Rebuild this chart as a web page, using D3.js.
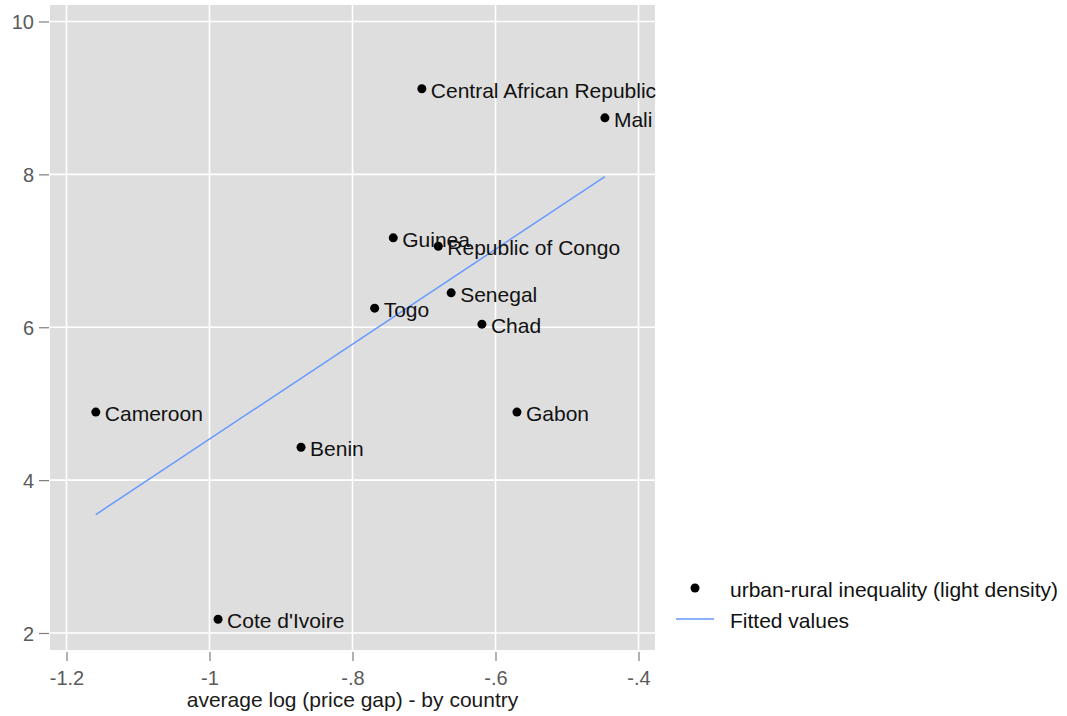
<!DOCTYPE html>
<html>
<head>
<meta charset="utf-8">
<script src="https://cdn.jsdelivr.net/npm/d3@7"></script>
<style>
  html, body { margin: 0; padding: 0; background: #ffffff; }
  svg { display: block; font-family: "Liberation Sans", Arial, sans-serif; }
</style>
</head>
<body>
<svg id="chart" width="1067" height="716"></svg>
<script>
// Countries and their values
const countries = ["Central African Republic", "Mali", "Guinea", "Republic of Congo", "Senegal",
                   "Togo", "Chad", "Gabon", "Cameroon", "Benin", "Cote d'Ivoire"];
const priceGap = [-0.703, -0.447, -0.743, -0.680, -0.662, -0.769, -0.619, -0.570, -1.159, -0.872, -0.988];
const inequality = [9.12, 8.74, 7.17, 7.06, 6.45, 6.25, 6.04, 4.89, 4.89, 4.43, 2.18];

// Fitted line endpoints
const fitX = [-1.159, -0.447];
const fitY = [3.55, 7.97];

const xTicks = [-1.2, -1.0, -0.8, -0.6, -0.4];
const xTickLabels = ["-1.2", "-1", "-.8", "-.6", "-.4"];
const yTicks = [2, 4, 6, 8, 10];
const yTickLabels = ["2", "4", "6", "8", "10"];

const legendLabels = ["urban-rural inequality (light density)", "Fitted values"];

const svg = d3.select("#chart");
const panel = { left: 50, right: 655, top: 5, bottom: 650 };

const x = d3.scaleLinear().domain([-1.2, -0.4]).range([66.5, 638.5]);
const y = d3.scaleLinear().domain([2, 10]).range([633, 21.5]);

const gridColor = "#ffffff";
const tickColor = "#7f7f7f";
const textGray = "#5a5a5a";
const fitColor = "#6699ff";

// Panel background
svg.append("rect")
  .attr("x", panel.left).attr("y", panel.top)
  .attr("width", panel.right - panel.left).attr("height", panel.bottom - panel.top)
  .attr("fill", "#dedede");

// Grid lines
svg.append("g").selectAll("line").data(xTicks).join("line")
  .attr("x1", d => x(d)).attr("x2", d => x(d))
  .attr("y1", panel.top).attr("y2", panel.bottom)
  .attr("stroke", gridColor).attr("stroke-width", 1.6);
svg.append("g").selectAll("line").data(yTicks).join("line")
  .attr("y1", d => y(d)).attr("y2", d => y(d))
  .attr("x1", panel.left).attr("x2", panel.right)
  .attr("stroke", gridColor).attr("stroke-width", 1.6);

// Axes
const xAxis = d3.axisBottom(x).tickValues(xTicks)
  .tickFormat((d, i) => xTickLabels[i]).tickSize(9).tickPadding(10);
const gx = svg.append("g").attr("transform", `translate(0,${panel.bottom + 2})`).call(xAxis);
gx.select(".domain").remove();
gx.selectAll("line").attr("stroke", tickColor).attr("stroke-width", 1.2);
gx.selectAll("text").attr("fill", textGray).style("font-size", "20px");

const yAxis = d3.axisLeft(y).tickValues(yTicks)
  .tickFormat((d, i) => yTickLabels[i]).tickSize(10).tickPadding(5);
const gy = svg.append("g").attr("transform", `translate(${panel.left - 1},0)`).call(yAxis);
gy.select(".domain").remove();
gy.selectAll("line").attr("stroke", tickColor).attr("stroke-width", 1.2);
gy.selectAll("text").attr("fill", textGray).style("font-size", "20px").attr("dy", "0.35em");

// Axis title
svg.append("text")
  .attr("x", (panel.left + panel.right) / 2).attr("y", 707)
  .attr("text-anchor", "middle").attr("fill", "#1a1a1a").style("font-size", "21px")
  .text("average log (price gap) - by country");

// Fitted line
svg.append("path")
  .datum(fitX.map((d, i) => [d, fitY[i]]))
  .attr("d", d3.line().x(d => x(d[0])).y(d => y(d[1])))
  .attr("fill", "none").attr("stroke", fitColor).attr("stroke-width", 1.5);

// Points and labels
const pts = countries.map((c, i) => ({ name: c, px: priceGap[i], py: inequality[i] }));
svg.append("g").selectAll("circle").data(pts).join("circle")
  .attr("cx", d => x(d.px)).attr("cy", d => y(d.py)).attr("r", 4.5).attr("fill", "#000");
svg.append("g").selectAll("text").data(pts).join("text")
  .attr("x", d => x(d.px) + 9).attr("y", d => y(d.py) + 9)
  .attr("fill", "#111").style("font-size", "21px")
  .text(d => d.name);

// Legend
const lg = svg.append("g");
lg.append("circle").attr("cx", 695).attr("cy", 588).attr("r", 4.5).attr("fill", "#000");
lg.append("line").attr("x1", 676).attr("x2", 714).attr("y1", 619).attr("y2", 619)
  .attr("stroke", fitColor).attr("stroke-width", 1.5);
lg.selectAll("text").data(legendLabels).join("text")
  .attr("x", 730).attr("y", (d, i) => 597 + i * 31)
  .attr("fill", "#111").style("font-size", "21px")
  .text(d => d);
</script>
</body>
</html>
